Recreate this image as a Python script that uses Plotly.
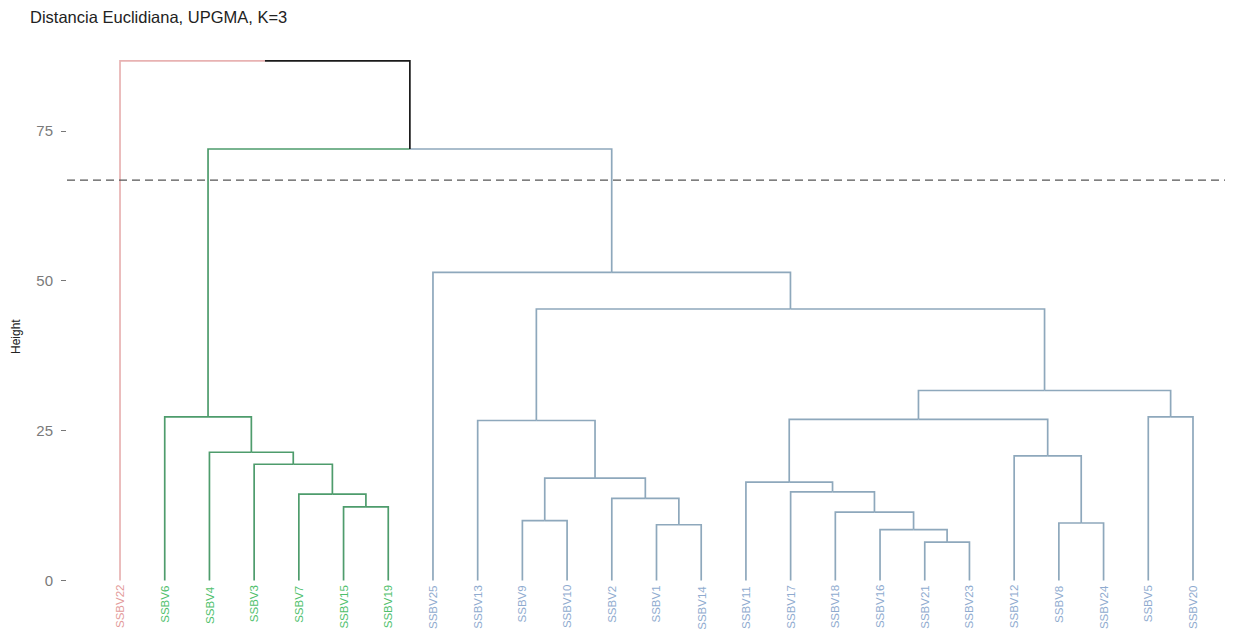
import plotly.graph_objects as go

# ---------------- data ----------------
leaves = ["SSBV22", "SSBV6", "SSBV4", "SSBV3", "SSBV7", "SSBV15", "SSBV19",
          "SSBV25", "SSBV13", "SSBV9", "SSBV10", "SSBV2", "SSBV1", "SSBV14",
          "SSBV11", "SSBV17", "SSBV18", "SSBV16", "SSBV21", "SSBV23",
          "SSBV12", "SSBV8", "SSBV24", "SSBV5", "SSBV20"]
leaf_cluster = [1, 2, 2, 2, 2, 2, 2,
                3, 3, 3, 3, 3, 3, 3,
                3, 3, 3, 3, 3, 3,
                3, 3, 3, 3, 3]

# merges: (left child, right child, height); "mN" refers to N-th merge (1-based)
merge_left = ["SSBV15", "SSBV7", "SSBV3", "SSBV4", "SSBV6",
              "SSBV9", "SSBV1", "SSBV2", "m6", "SSBV13",
              "SSBV21", "SSBV16", "SSBV18", "SSBV17", "SSBV11",
              "SSBV8", "SSBV12", "m15", "SSBV5", "m18",
              "m10", "SSBV25", "m5", "SSBV22"]
merge_right = ["SSBV19", "m1", "m2", "m3", "m4",
               "SSBV10", "SSBV14", "m7", "m8", "m9",
               "SSBV23", "m11", "m12", "m13", "m14",
               "SSBV24", "m16", "m17", "SSBV20", "m19",
               "m20", "m21", "m22", "m23"]
merge_height = [12.3, 14.4, 19.4, 21.4, 27.3,
                10.0, 9.3, 13.7, 17.1, 26.7,
                6.4, 8.5, 11.4, 14.8, 16.4,
                9.6, 20.8, 26.9, 27.3, 31.7,
                45.3, 51.4, 72.0, 86.7]
cut_height = 66.8

y_ticks = [0, 25, 50, 75]
title_text = "Distancia Euclidiana, UPGMA, K=3"
y_title = "Height"

cluster_line_color = {1: "#E8B2B2", 2: "#4E9C6C", 3: "#8EA8BC", 0: "#1a1a1a"}
cluster_text_color = {1: "#E39A9A", 2: "#4FBF6C", 3: "#8FABCF"}

# ---------------- dendrogram geometry ----------------
pos = {name: i + 1 for i, name in enumerate(leaves)}
node_x, node_h, node_cl = {}, {}, {}
for name, c in zip(leaves, leaf_cluster):
    node_x[name] = pos[name]
    node_h[name] = 0.0
    node_cl[name] = c

segments = {k: ([], []) for k in cluster_line_color}
for i, (a, b, h) in enumerate(zip(merge_left, merge_right, merge_height)):
    key = "m%d" % (i + 1)
    px = (node_x[a] + node_x[b]) / 2
    for child in (a, b):
        col = node_cl[child]
        xs, ys = segments[col]
        xs += [node_x[child], node_x[child], px, None]
        ys += [node_h[child], h, h, None]
    node_x[key] = px
    node_h[key] = h
    node_cl[key] = node_cl[a] if node_cl[a] == node_cl[b] else 0

fig = go.Figure()
for col, (xs, ys) in segments.items():
    if xs:
        fig.add_trace(go.Scatter(x=xs, y=ys, mode="lines",
                                 line=dict(color=cluster_line_color[col], width=1.7),
                                 hoverinfo="skip", showlegend=False))

# cut line
fig.add_shape(type="line", xref="paper", x0=0, x1=1, yref="y",
              y0=cut_height, y1=cut_height,
              line=dict(color="#555555", width=1.3, dash="8px,5px"))

FONT = "Liberation Sans, Arial, sans-serif"

# leaf labels
for name, c in zip(leaves, leaf_cluster):
    fig.add_annotation(x=pos[name], y=-0.5, xref="x", yref="y", text=name,
                       showarrow=False, textangle=-90, xanchor="center",
                       yanchor="top",
                       font=dict(family=FONT, size=11.5, color=cluster_text_color[c]))

# y-axis title
fig.add_annotation(x=0, y=0.5, xref="paper", yref="paper", text=y_title,
                   showarrow=False, textangle=-90, xanchor="center",
                   yanchor="middle", xshift=-51,
                   font=dict(family=FONT, size=12, color="#222222"))

# page body adds an 8px offset; canvas is sized to fit the window
W, H, OFF = 1225, 621, 8
fig.update_layout(
    width=W, height=H, autosize=False,
    margin=dict(l=67 - OFF, r=0, t=45 - OFF, b=0, pad=0),
    paper_bgcolor="white", plot_bgcolor="white",
    title=dict(text=title_text, x=(30 - OFF) / W, xref="container", xanchor="left",
               y=1 - (17 - OFF) / H, yref="container", yanchor="middle",
               font=dict(family=FONT, size=16.5, color="#222222")),
    xaxis=dict(range=[-0.186, 25.895], showgrid=False, zeroline=False,
               showticklabels=False, ticks="", showline=False, fixedrange=True),
    yaxis=dict(range=[-8.09, 89.35], showgrid=False, zeroline=False,
               showline=False, tickvals=y_ticks, ticks="outside", ticklen=5,
               tickcolor="#777777", tickwidth=1.2, ticklabelstandoff=5,
               tickfont=dict(family=FONT, size=15, color="#7a7a7a")),
)

fig.write_html("out.html")
